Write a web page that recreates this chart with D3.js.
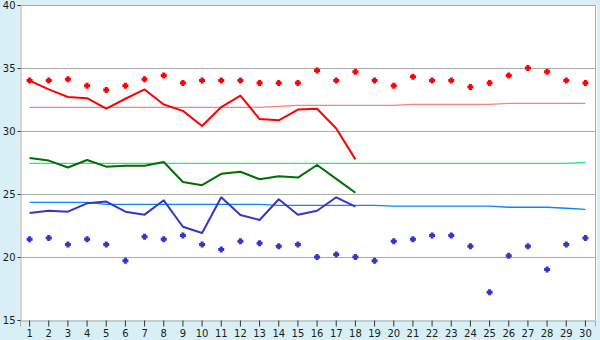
<!DOCTYPE html>
<html><head><meta charset="utf-8">
<script src="https://cdn.jsdelivr.net/npm/d3@7"></script>
<style>
html,body{margin:0;padding:0;background:#d9eff6;}
svg{display:block;}
text{font-family:"DejaVu Sans",Verdana,sans-serif;font-size:10px;fill:#1a1a1a;}
</style></head>
<body><svg id="c" width="600" height="340"></svg>
<script>
const days = [1,2,3,4,5,6,7,8,9,10,11,12,13,14,15,16,17,18,19,20,21,22,23,24,25,26,27,28,29,30];
const yTicks = [15,20,25,30,35,40];

// daily extreme markers
const maxPoints = [34.0,34.0,34.1,33.6,33.25,33.6,34.1,34.4,33.8,34.0,34.0,34.0,33.8,33.8,33.8,34.8,34.0,34.7,34.0,33.6,34.3,34.0,34.0,33.5,33.8,34.4,35.0,34.7,34.0,33.8];
const minPoints = [21.4,21.5,21.0,21.4,21.0,19.7,21.6,21.4,21.7,21.0,20.6,21.25,21.1,20.85,21.0,20.0,20.2,20.0,19.7,21.25,21.4,21.7,21.7,20.85,17.2,20.1,20.85,19.0,21.0,21.5];

// observed series (days 1-18)
const maxLine = [34.0,33.3,32.7,32.6,31.77,32.56,33.3,32.1,31.6,30.4,31.9,32.8,30.95,30.85,31.7,31.77,30.2,27.75];
const meanLine = [27.86,27.65,27.1,27.7,27.17,27.25,27.25,27.54,25.95,25.7,26.6,26.77,26.17,26.4,26.3,27.3,26.2,25.1];
const minLine = [23.5,23.67,23.6,24.26,24.4,23.6,23.36,24.5,22.4,21.9,24.74,23.33,22.94,24.58,23.36,23.67,24.74,24.0];

// normals
const maxTrend = [31.88,31.88,31.88,31.88,31.88,31.88,31.88,31.88,31.88,31.88,31.88,31.88,31.88,31.96,32.04,32.04,32.04,32.04,32.04,32.04,32.12,32.12,32.12,32.12,32.12,32.2,32.2,32.2,32.2,32.2];
const meanTrend = [27.43,27.43,27.43,27.43,27.43,27.43,27.43,27.43,27.43,27.43,27.43,27.43,27.43,27.43,27.43,27.43,27.43,27.43,27.43,27.43,27.43,27.43,27.43,27.43,27.43,27.43,27.43,27.43,27.43,27.5];
const minTrend = [24.34,24.34,24.34,24.34,24.18,24.18,24.18,24.18,24.18,24.18,24.18,24.18,24.18,24.1,24.1,24.1,24.1,24.1,24.1,24.03,24.03,24.03,24.03,24.03,24.03,23.95,23.95,23.95,23.87,23.78];

const svg = d3.select('#c');
const L = 20, R = 595, T = 5, B = 320;
const x = d3.scaleBand().domain(days).range([L, R]);
const cx = d => x(d) + x.bandwidth()/2;
const y = d3.scaleLinear().domain([15,40]).range([B, T]);

svg.append('rect').attr('x', L).attr('y', T).attr('width', R - L + 2).attr('height', B - T).attr('fill', '#fff');

// grid (incl. top border)
svg.append('g').selectAll('line').data(yTicks.filter(t => t > 15)).join('line')
  .attr('x1', L).attr('x2', R).attr('y1', d => Math.round(y(d)) + 0.5).attr('y2', d => Math.round(y(d)) + 0.5)
  .attr('stroke', '#aaaaaa').attr('stroke-width', 1);
svg.append('line').attr('x1', R + 0.5).attr('x2', R + 0.5).attr('y1', T).attr('y2', B).attr('stroke', '#aaaaaa');

// axes
const yAxis = d3.axisLeft(y).tickValues(yTicks).tickSize(3).tickPadding(2).tickFormat(d3.format('d'));
const gy = svg.append('g').attr('transform', `translate(${L + 0.5},0)`).call(yAxis);
gy.select('.domain').attr('stroke', '#aaaaaa');
gy.selectAll('.tick line').attr('stroke', '#333');
gy.selectAll('text').attr('dy', '0.35em');

const xAxis = d3.axisBottom(x).tickSize(6).tickPadding(3);
const gx = svg.append('g').attr('transform', `translate(0,${B + 0.5})`).call(xAxis);
gx.select('.domain').attr('stroke', '#aaaaaa');
gx.selectAll('.tick line').attr('stroke', '#333');
svg.selectAll('.tick text').style('font-size', '10px').style('font-family', '"DejaVu Sans",Verdana,sans-serif').attr('fill', '#1a1a1a');

const line = d3.line().x((d, i) => cx(days[i])).y(d => y(d));

// normals
[[maxTrend, '#ff7f7f'], [meanTrend, '#22ee77'], [minTrend, '#0a84ff']].forEach(([arr, col]) => {
  svg.append('path').attr('d', line(arr)).attr('fill', 'none').attr('stroke', col).attr('stroke-width', 1.3);
});

// observed lines
[[maxLine, '#ff0000'], [meanLine, '#006e00'], [minLine, '#3535cc']].forEach(([arr, col]) => {
  svg.append('path').attr('d', line(arr)).attr('fill', 'none').attr('stroke', col).attr('stroke-width', 2).attr('stroke-linejoin', 'round');
});

// markers: bold plus
const plus = 'M-1.5,-3H1.5V-1.5H3V1.5H1.5V3H-1.5V1.5H-3V-1.5H-1.5Z';
svg.append('g').selectAll('path').data(maxPoints).join('path')
  .attr('d', plus).attr('transform', (d, i) => `translate(${cx(days[i])},${y(d)})`).attr('fill', '#ff0000');
svg.append('g').selectAll('path').data(minPoints).join('path')
  .attr('d', plus).attr('transform', (d, i) => `translate(${cx(days[i])},${y(d)})`).attr('fill', '#3535cc');
</script></body></html>
